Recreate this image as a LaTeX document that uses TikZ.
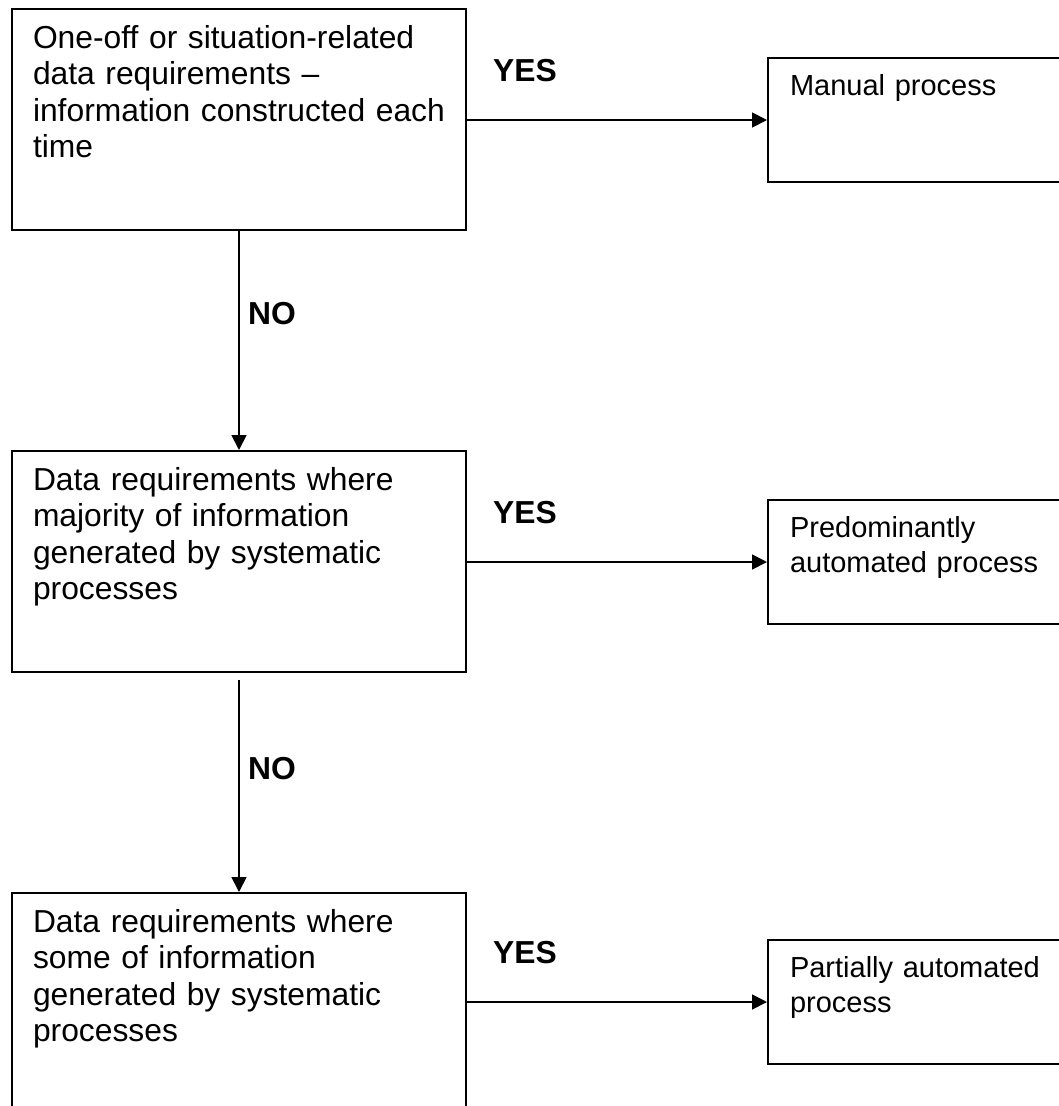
\documentclass[tikz,border=0pt]{standalone}
\usepackage{fontspec}
\setmainfont{Liberation Sans}
\usetikzlibrary{arrows.meta, positioning}

\begin{document}
\begin{tikzpicture}[
  x=1pt, y=-1pt,
  font=\fontsize{31.8}{36.5}\selectfont,
  >={Triangle[length=15pt, width=15pt]},
  query/.style={
    rectangle, draw=black, line width=2pt, anchor=north west,
    text width=412pt, align=left, inner xsep=21pt, inner ysep=13.5pt,
    text height=25.5pt, text depth=168.5pt
  },
  outcome/.style={
    rectangle, draw=black, line width=2pt, anchor=north west,
    text width=300pt, align=left, inner xsep=22pt, inner ysep=13.5pt,
    text height=23.5pt, text depth=73.5pt,
    font=\fontsize{29}{35}\selectfont
  },
  flow/.style={->, line width=1.8pt, color=black},
  answer/.style={font=\fontsize{31.8}{36.5}\selectfont\bfseries, anchor=base west, inner sep=0pt}
]

% Page frame
\useasboundingbox (0,0) rectangle (1059,1106);
\clip (0,0) rectangle (1059,1106);

% Decision boxes
\node[query] (q1) at (11,8) {One-off or situation-related\\data requirements --\\information constructed each\\time};
\node[query] (q2) at (11,450) {Data requirements where\\majority of information\\generated by systematic\\processes};
\node[query] (q3) at (11,892) {Data requirements where\\some of information\\generated by systematic\\processes};

% Outcome boxes
\node[outcome] (r1) at (767,57) {Manual process};
\node[outcome] (r2) at (767,499) {Predominantly\\automated process};
\node[outcome] (r3) at (767,939) {Partially automated\\process};

% Flow arrows
\draw[flow] (r1.west -| q1.east) -- (r1.west);
\draw[flow] (r2.west -| q2.east) -- (r2.west);
\draw[flow] (r3.west -| q3.east) -- (r3.west);
\draw[flow] (q1.south) -- (q2.north);
\draw[flow] ([yshift=-7pt]q2.south) -- (q3.north);

% Answer labels
\node[answer] (yes1) at (493,81) {YES};
\node[answer] (yes2) at (493,523) {YES};
\node[answer] (yes3) at (493,963) {YES};
\node[answer] (no1) at (248,324) {NO};
\node[answer] (no2) at (248,779) {NO};

\end{tikzpicture}
\end{document}
